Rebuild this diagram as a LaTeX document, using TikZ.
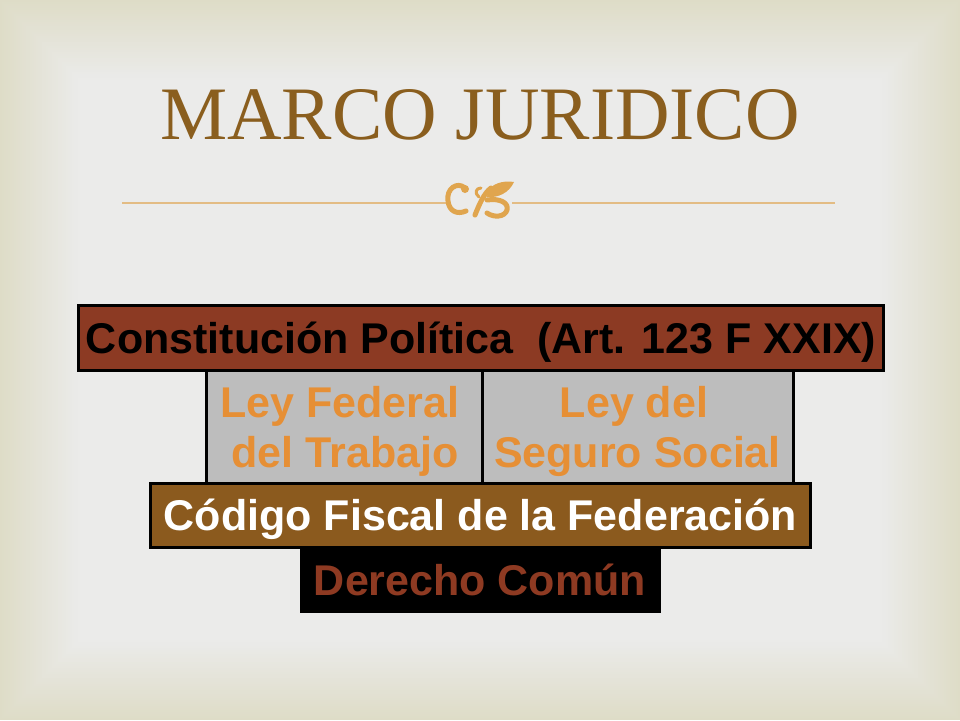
\documentclass[tikz,border=0pt]{standalone}
\usepackage{fontspec}
\setmainfont{Liberation Serif}
\newfontfamily\boxfont{Liberation Sans}
\definecolor{bgedge}{HTML}{DEDCC7}
\definecolor{bgcenter}{HTML}{EBEBEA}
\definecolor{titlec}{HTML}{8A5E1E}
\definecolor{linec}{HTML}{E3BC84}
\definecolor{ornc}{HTML}{E0A54E}
\definecolor{constit}{HTML}{8C3A23}
\definecolor{grayfill}{HTML}{BDBDBD}
\definecolor{orangetxt}{HTML}{E68F35}
\definecolor{codigo}{HTML}{8B5A1E}
\definecolor{derechotxt}{HTML}{8E3A22}
\begin{document}
\begin{tikzpicture}[x=1pt,y=-1pt,
  plate/.style={draw=black, line width=3pt, rectangle, inner sep=0pt,
    text height=31pt, text depth=0pt,
    font=\boxfont\bfseries\fontsize{43}{50}\selectfont},
  lbl/.style={anchor=base, inner sep=0pt, text=orangetxt,
    font=\boxfont\bfseries\fontsize{43}{50}\selectfont},
  orn/.style={draw=ornc, line width=5pt, line cap=round, line join=round}]
\useasboundingbox (0,0) rectangle (960,720);
% background
\foreach \i in {0,...,40}{
  \pgfmathtruncatemacro\p{100-2.5*\i}
  \fill[bgedge!\p!bgcenter] (\i*2,\i*2) rectangle (960-\i*2,720-\i*2);
}
% title
\node[anchor=base, inner sep=0pt, text=titlec,
  font=\fontsize{75.5}{80}\selectfont] (title) at (480,139) {MARCO JURIDICO};
% rule with ornament
\coordinate (rl) at (122,203);
\coordinate (rml) at (446,203);
\coordinate (rmr) at (512,203);
\coordinate (rr) at (835,203);
\draw[linec, line width=1.3pt] (rl) -- (rml);
\draw[linec, line width=1.3pt] (rmr) -- (rr);
\draw[orn] (465,188) .. controls (457,181) and (446,189) .. (448,201)
  .. controls (449,211) and (457,215) .. (466,211);
\fill[ornc] (465,189) circle (4pt);
\draw[orn] (475,215) .. controls (479,205) and (484,193) .. (491,188);
\fill[ornc] (488,190) .. controls (496,181) and (507,181) .. (514,182)
  .. controls (509,193) and (498,198) .. (487,197) -- cycle;
\draw[orn] (487,200) .. controls (500,198) and (509,203) .. (507,210)
  .. controls (505,217) and (494,218) .. (487,213);
\draw[orn, line width=3pt] (479,197) .. controls (474,193) and (476,188) .. (481,188);
% boxes
\node[plate, fill=grayfill, minimum width=276pt, minimum height=113pt] (lf) at (344,426.5) {};
\node[plate, fill=grayfill, minimum width=311pt, minimum height=113pt] (ls) at (637.5,426.5) {};
\node[lbl] (lf1) at (340,417) {Ley Federal};
\node[lbl] (lf2) at (345,467) {del Trabajo};
\node[lbl] (ls1) at (634,417) {Ley del};
\node[lbl] (ls2) at (637.5,467) {Seguro Social};
\node[plate, fill=constit, text=black, minimum width=805pt, minimum height=65pt] (con) at (481,337.5) {Constitución Política\ \ (Art. 123 F XXIX)};
\node[plate, fill=codigo, text=white, minimum width=660pt, minimum height=64pt] (cod) at (480.5,515) {Código Fiscal de la Federación};
\node[plate, fill=black, text=derechotxt, minimum width=358pt, minimum height=63pt] (der) at (480,580) {Derecho Común};
\end{tikzpicture}
\end{document}
